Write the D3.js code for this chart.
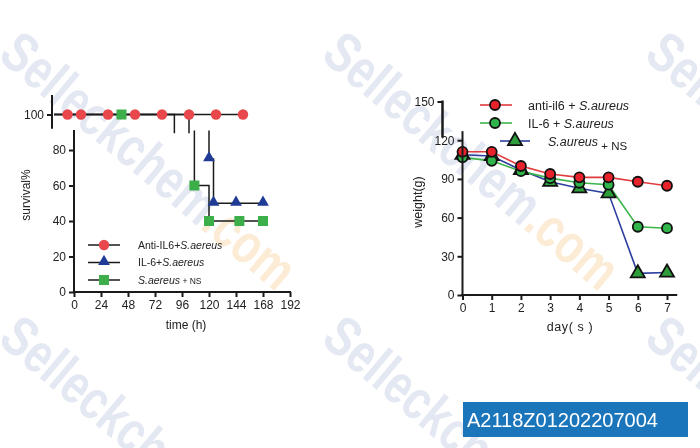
<!DOCTYPE html>
<html>
<head>
<meta charset="utf-8">
<script src="https://cdn.jsdelivr.net/npm/d3@7"></script>
<style>
  body { margin: 0; background: #fff; }
  svg { display: block; font-family: "Liberation Sans", Arial, sans-serif; }
</style>
</head>
<body>
<script>
"use strict";

// ---- survival data (left) ----
var survTicksX = [0, 24, 48, 72, 96, 120, 144, 168, 192];
var survTicksY = [0, 20, 40, 60, 80];
var antiMarkTimes = [12, 24, 48, 72, 96, 120, 144, 168];
var antiSteps = [[0, 100], [168, 100]];
var il6Steps = [[0, 100], [120, 75], [124, 50], [168, 50]];
var il6MarkTimes = [120, 124, 144, 168];
var il6MarkVals = [75, 50, 50, 50];
var nsSteps = [[0, 100], [107, 60], [120, 40], [168, 40]];
var nsMarkTimes = [60, 107, 120, 147, 168];
var nsMarkVals = [100, 60, 40, 40, 40];

// ---- weight data (right) ----
var days = [0, 1, 2, 3, 4, 5, 6, 7];
var weightTicksY = [0, 30, 60, 90, 120];
var antiW = [111, 111, 100, 93.8, 91.2, 91.2, 87.8, 84.7];
var il6W = [106.7, 104, 96, 90.6, 87, 85.5, 52.9, 51.8];
var nsW = [108.7, 107.7, 96.9, 87.8, 82.7, 78.8, 16.8, 17.4];

var labelId = "A2118Z01202207004";

function draw_chart() {
    var svg = d3.select("body").append("svg")
        .attr("width", 700).attr("height", 448);

    // watermark
    var wm = svg.append("g").attr("opacity", 0.5);
    [[22, 28], [345, 28], [22, 312], [345, 312], [668, 28], [668, 312]].forEach(function(p) {
        var t = wm.append("text")
            .attr("transform", "translate(" + p[0] + "," + p[1] + ")rotate(40)")
            .attr("font-size", 56).attr("font-weight", "bold")
            .attr("textLength", 365).attr("lengthAdjust", "spacingAndGlyphs")
            .attr("dy", "0.7em");
        t.append("tspan").attr("fill", "#c9d0e4").text("Selleckchem");
        t.append("tspan").attr("fill", "#f8d8ad").text(".com");
    });

    var ink = "#1a1a1a";

    // ================= left: survival =================
    var xL = d3.scaleLinear().domain([0, 192]).range([74, 290]);
    var yL = d3.scaleLinear().domain([0, 111]).range([292, 95]);
    var shiftUp = -20;

    svg.append("clipPath").attr("id", "clipLow").append("rect")
        .attr("x", 0).attr("y", yL(91)).attr("width", 320).attr("height", 200);
    svg.append("clipPath").attr("id", "clipUp").append("rect")
        .attr("x", 0).attr("y", yL(111)).attr("width", 320).attr("height", yL(89.5) - yL(111));

    var step = d3.line().curve(d3.curveStepAfter)
        .x(function(d) { return xL(d[0]); })
        .y(function(d) { return yL(d[1]); });

    function drawSurvival(g) {
        [antiSteps, il6Steps, nsSteps].forEach(function(s) {
            g.append("path").attr("d", step(s))
                .attr("fill", "none").attr("stroke", ink).attr("stroke-width", 1.5);
        });
        g.selectAll(".sq").data(nsMarkTimes).enter().append("rect")
            .attr("x", function(d) { return xL(d) - 5; })
            .attr("y", function(d, i) { return yL(nsMarkVals[i]) - 5; })
            .attr("width", 10).attr("height", 10).attr("fill", "#3cae4a");
        g.selectAll(".tri").data(il6MarkTimes).enter().append("path")
            .attr("d", d3.symbol().type(d3.symbolTriangle).size(60))
            .attr("transform", function(d, i) {
                return "translate(" + xL(d) + "," + (yL(il6MarkVals[i]) - 1) + ")";
            })
            .attr("fill", "#1f3b95");
        g.selectAll(".circ").data(antiMarkTimes).enter().append("circle")
            .attr("cx", function(d) { return xL(d); })
            .attr("cy", yL(100)).attr("r", 5.2).attr("fill", "#e8474b");
    }

    var lowG = svg.append("g").attr("clip-path", "url(#clipLow)").append("g");
    drawSurvival(lowG);
    var upG = svg.append("g").attr("clip-path", "url(#clipUp)")
        .append("g").attr("transform", "translate(" + shiftUp + ",0)");
    drawSurvival(upG);

    // lower y axis
    var axL = svg.append("g").attr("transform", "translate(" + xL(0) + ",0)")
        .call(d3.axisLeft(yL).tickValues(survTicksY).tickSize(5).tickPadding(3));
    axL.select(".domain").remove();
    svg.append("line").attr("x1", xL(0)).attr("x2", xL(0))
        .attr("y1", yL(0)).attr("y2", yL(91.3))
        .attr("stroke", ink).attr("stroke-width", 2);
    // upper y axis (broken piece)
    var upX = xL(0) + shiftUp - 2;
    var axU = svg.append("g").attr("transform", "translate(" + upX + ",0)")
        .call(d3.axisLeft(yL).tickValues([100]).tickSize(5).tickPadding(3));
    axU.select(".domain").remove();
    svg.append("line").attr("x1", upX).attr("x2", upX)
        .attr("y1", yL(111)).attr("y2", yL(92))
        .attr("stroke", ink).attr("stroke-width", 2);
    // x axis
    var axX = svg.append("g").attr("transform", "translate(0," + yL(0) + ")")
        .call(d3.axisBottom(xL).tickValues(survTicksX).tickSize(5).tickPadding(3));
    axX.select(".domain").remove();
    svg.append("line").attr("x1", xL(0) - 1).attr("x2", xL(192) + 1)
        .attr("y1", yL(0)).attr("y2", yL(0))
        .attr("stroke", ink).attr("stroke-width", 2);

    [axL, axU, axX].forEach(function(a) {
        a.selectAll("text").attr("font-size", 12).attr("fill", "#222")
            .style("font-family", "'Liberation Sans', Arial, sans-serif");
        a.selectAll(".tick line").attr("stroke", ink).attr("stroke-width", 2);
    });

    svg.append("text").attr("x", 186).attr("y", 329).attr("text-anchor", "middle")
        .attr("font-size", 12).attr("fill", "#222").text("time (h)");
    svg.append("text").attr("transform", "translate(30,195)rotate(-90)")
        .attr("text-anchor", "middle").attr("font-size", 12).attr("fill", "#222")
        .text("survival%");

    // left legend
    var legL = [
        {pre: "Anti-IL6+", it: "S.aereus", post: "", sym: "circle"},
        {pre: "IL-6+", it: "S.aereus", post: "", sym: "tri"},
        {pre: "", it: "S.aereus", post: " + NS", sym: "sq"}
    ];
    legL.forEach(function(d, i) {
        var ly = 245 + i * 17.5;
        svg.append("line").attr("x1", 88).attr("x2", 120).attr("y1", ly).attr("y2", ly)
            .attr("stroke", ink).attr("stroke-width", 1.5);
        if (d.sym === "circle") {
            svg.append("circle").attr("cx", 104).attr("cy", ly).attr("r", 5.2).attr("fill", "#e8474b");
        } else if (d.sym === "tri") {
            svg.append("path").attr("d", d3.symbol().type(d3.symbolTriangle).size(60))
                .attr("transform", "translate(104," + (ly - 1) + ")").attr("fill", "#1f3b95");
        } else {
            svg.append("rect").attr("x", 99).attr("y", ly - 5).attr("width", 10).attr("height", 10)
                .attr("fill", "#3cae4a");
        }
        var t = svg.append("text").attr("x", 138).attr("y", ly + 3.5)
            .attr("font-size", 10.5).attr("fill", "#222");
        if (d.pre) t.append("tspan").text(d.pre);
        t.append("tspan").attr("font-style", "italic").text(d.it);
        if (d.post) t.append("tspan").attr("font-size", 8.5).text(d.post);
    });

    // ================= right: weight =================
    var xR = d3.scaleLinear().domain([0, 7]).range([462.5, 667]);
    var yR = d3.scaleLinear().domain([0, 150]).range([295, 101.5]);

    var line = d3.line()
        .x(function(d, i) { return xR(days[i]); })
        .y(function(d) { return yR(d); });

    var series = [
        {vals: nsW, color: "#2b3f9e"},
        {vals: il6W, color: "#3db54a"},
        {vals: antiW, color: "#e23b3f"}
    ];
    series.forEach(function(s) {
        svg.append("path").attr("d", line(s.vals)).attr("fill", "none")
            .attr("stroke", s.color).attr("stroke-width", 1.6);
    });
    var triSym = d3.symbol().type(d3.symbolTriangle).size(85);
    svg.append("g").selectAll("path").data(nsW).enter().append("path")
        .attr("d", triSym)
        .attr("transform", function(d, i) { return "translate(" + xR(days[i]) + "," + yR(d) + ")"; })
        .attr("fill", "#2e9e3c").attr("stroke", "#111").attr("stroke-width", 1.8);
    svg.append("g").selectAll("circle").data(il6W).enter().append("circle")
        .attr("cx", function(d, i) { return xR(days[i]); })
        .attr("cy", function(d) { return yR(d); })
        .attr("r", 5).attr("fill", "#2fb54a").attr("stroke", "#111").attr("stroke-width", 1.8);
    svg.append("g").selectAll("circle").data(antiW).enter().append("circle")
        .attr("cx", function(d, i) { return xR(days[i]); })
        .attr("cy", function(d) { return yR(d); })
        .attr("r", 5).attr("fill", "#e8222b").attr("stroke", "#111").attr("stroke-width", 1.8);

    // right axes
    var ayR = svg.append("g").attr("transform", "translate(" + xR(0) + ",0)")
        .call(d3.axisLeft(yR).tickValues(weightTicksY).tickSize(5).tickPadding(3));
    ayR.select(".domain").remove();
    svg.append("line").attr("x1", xR(0)).attr("x2", xR(0))
        .attr("y1", yR(0)).attr("y2", yR(127))
        .attr("stroke", ink).attr("stroke-width", 2);
    var upXR = xR(0) - 20;
    var ayU = svg.append("g").attr("transform", "translate(" + upXR + ",0)")
        .call(d3.axisLeft(yR).tickValues([150]).tickSize(5).tickPadding(3));
    ayU.select(".domain").remove();
    svg.append("line").attr("x1", upXR).attr("x2", upXR)
        .attr("y1", yR(150) - 1).attr("y2", yR(122))
        .attr("stroke", ink).attr("stroke-width", 2.5);
    var axR = svg.append("g").attr("transform", "translate(0," + yR(0) + ")")
        .call(d3.axisBottom(xR).tickValues(days).tickFormat(d3.format("d"))
            .tickSize(5).tickPadding(3));
    axR.select(".domain").remove();
    svg.append("line").attr("x1", xR(0) - 1).attr("x2", xR(7.35))
        .attr("y1", yR(0)).attr("y2", yR(0))
        .attr("stroke", ink).attr("stroke-width", 2);
    [ayR, ayU, axR].forEach(function(a) {
        a.selectAll("text").attr("font-size", 12).attr("fill", "#222")
            .style("font-family", "'Liberation Sans', Arial, sans-serif");
        a.selectAll(".tick line").attr("stroke", ink).attr("stroke-width", 2);
    });

    svg.append("text").attr("x", 570).attr("y", 331).attr("text-anchor", "middle")
        .attr("font-size", 12.5).attr("fill", "#222").attr("letter-spacing", 0.6).text("day( s )");
    svg.append("text").attr("transform", "translate(422,202)rotate(-90)")
        .attr("text-anchor", "middle").attr("font-size", 12.5).attr("fill", "#222")
        .text("weight(g)");

    // right legend
    var legR = [
        {y: 105, x1: 480, x2: 512, mx: 495, color: "#e23b3f", fill: "#e8222b", sym: "c",
         tx: 528, pre: "anti-il6 + ", it: "S.aureus", post: ""},
        {y: 123, x1: 480, x2: 512, mx: 495, color: "#3db54a", fill: "#2fb54a", sym: "c",
         tx: 528, pre: "IL-6 + ", it: "S.aureus", post: ""},
        {y: 141, x1: 500, x2: 530, mx: 515, color: "#2b3f9e", fill: "#2e9e3c", sym: "t",
         tx: 548, pre: "", it: "S.aureus", post: " + NS"}
    ];
    legR.forEach(function(d) {
        svg.append("line").attr("x1", d.x1).attr("x2", d.x2).attr("y1", d.y).attr("y2", d.y)
            .attr("stroke", d.color).attr("stroke-width", 1.6);
        if (d.sym === "c") {
            svg.append("circle").attr("cx", d.mx).attr("cy", d.y).attr("r", 5)
                .attr("fill", d.fill).attr("stroke", "#111").attr("stroke-width", 1.8);
        } else {
            svg.append("path").attr("d", triSym)
                .attr("transform", "translate(" + d.mx + "," + d.y + ")")
                .attr("fill", d.fill).attr("stroke", "#111").attr("stroke-width", 1.8);
        }
        var t = svg.append("text").attr("x", d.tx).attr("y", d.y + 4.5)
            .attr("font-size", 12.5).attr("fill", "#222");
        if (d.pre) t.append("tspan").text(d.pre);
        t.append("tspan").attr("font-style", "italic").text(d.it);
        if (d.post) t.append("tspan").attr("dy", 4).attr("font-size", 11.5).text(d.post);
    });

    // id label
    svg.append("rect").attr("x", 463).attr("y", 402).attr("width", 225).attr("height", 35)
        .attr("fill", "#1b75bb");
    svg.append("text").attr("x", 467).attr("y", 427).attr("font-size", 20)
        .attr("fill", "#fff").text(labelId);
}

draw_chart();
</script>
</body>
</html>
